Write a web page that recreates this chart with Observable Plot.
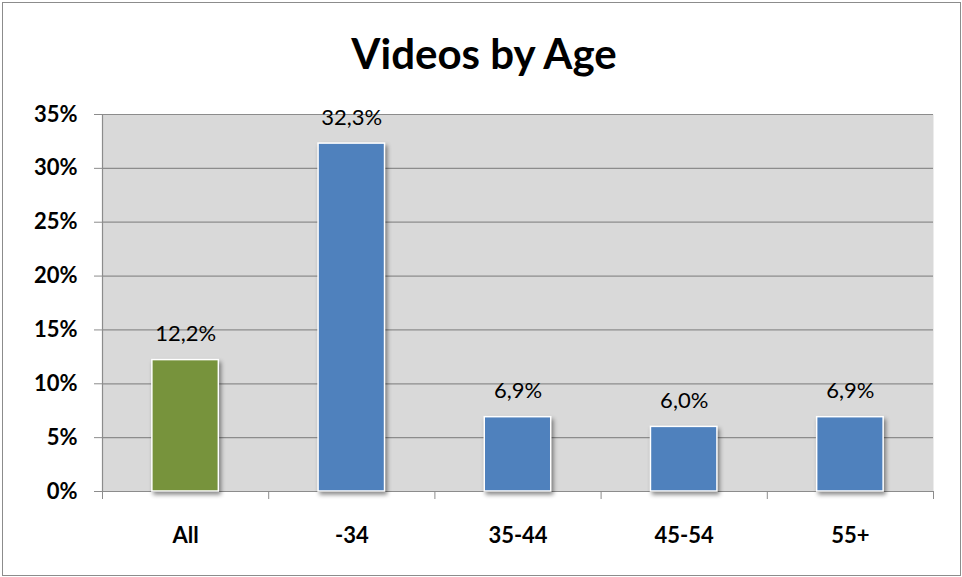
<!DOCTYPE html>
<html><head><meta charset="utf-8">
<script src="https://cdn.jsdelivr.net/npm/d3@7"></script>
<script src="https://cdn.jsdelivr.net/npm/@observablehq/plot@0.6"></script>
<style>
body{margin:0;background:#fff;}
#wrap{position:relative;width:962px;height:577px;}
#border{position:absolute;left:2px;top:2px;width:957px;height:572px;border:1px solid #8c8c8c;pointer-events:none;}
</style></head><body><div id="wrap"><div id="border"></div></div>
<script>
const title = "Videos by Age";
const categories = ["All", "-34", "35-44", "45-54", "55+"];
const values = [12.2, 32.3, 6.9, 6.0, 6.9];
const colors = ["#77933c", "#4f81bd", "#4f81bd", "#4f81bd", "#4f81bd"];
const yTicks = [0, 5, 10, 15, 20, 25, 30, 35];

const data = categories.map((c, i) => ({c, i, v: values[i], color: colors[i]}));
const fmt = v => v.toFixed(1).replace(".", ",") + "%";

const chart = Plot.plot({
  width: 962, height: 577,
  marginLeft: 102, marginRight: 29, marginTop: 114, marginBottom: 86,
  style: {fontFamily: "Lato, 'Open Sans', sans-serif", background: "transparent", color: "black"},
  x: {domain: [0, categories.length], axis: null},
  y: {domain: [0, 35], axis: null},
  color: {type: "identity"},
  marks: [
    Plot.frame({fill: "#d9d9d9", stroke: null}),
    Plot.ruleY(yTicks.slice(1), {stroke: "#8c8c8c", strokeWidth: 1.2}),
    Plot.ruleX([0], {stroke: "#8c8c8c", strokeWidth: 1.2}),
    Plot.ruleY([0], {stroke: "#8c8c8c", strokeWidth: 1.2}),
    Plot.axisY({ticks: yTicks, tickFormat: d => d + "%", tickSize: 8, tickPadding: 17, label: null,
      stroke: "#8c8c8c", fill: "black", fontSize: 22, fontWeight: "bold"}),
    Plot.axisX({ticks: d3.range(categories.length + 1), tickFormat: () => "", tickSize: 8, label: null,
      stroke: "#8c8c8c"}),
    Plot.rectY(data, {x1: d => d.i + 0.3, x2: d => d.i + 0.7, y1: 0, y2: "v",
      fill: "color", stroke: "white", strokeWidth: 1.5, className: "bars"}),
    Plot.text(data, {x: d => d.i + 0.5, y: "v", text: d => fmt(d.v), dy: -26,
      lineAnchor: "middle", fontSize: 22, fill: "black"}),
    Plot.text(data, {x: d => d.i + 0.5, frameAnchor: "bottom", text: "c", dy: 44,
      lineAnchor: "middle", fontSize: 22, fontWeight: "bold", fill: "black"}),
    Plot.text([title], {frameAnchor: "top", dy: -59, dx: -34, lineAnchor: "middle",
      fontSize: 42, fontWeight: "bold", fill: "black"})
  ]
});
d3.select(chart).selectAll("g.bars, g[aria-label='rect']").style("filter", "drop-shadow(2px 3px 2px rgba(0,0,0,0.45))");
document.getElementById("wrap").prepend(chart);
</script>
</body></html>
